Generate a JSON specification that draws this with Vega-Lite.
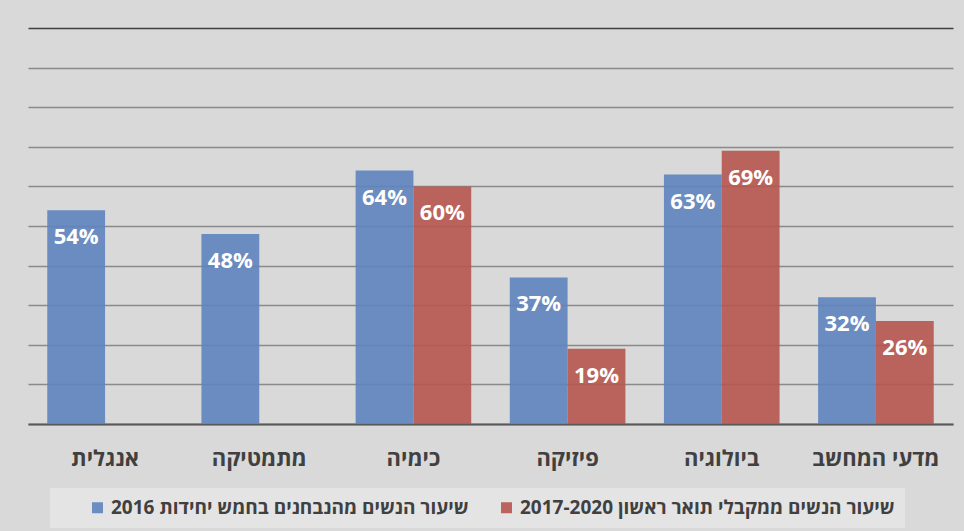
{
  "$schema": "https://vega.github.io/schema/vega-lite/v6.json",
  "width": 925,
  "height": 396,
  "autosize": "none",
  "padding": {"left": 28, "top": 28, "right": 11, "bottom": 107},
  "background": "#d9d9d9",
  "config": {
    "view": {"stroke": null},
    "font": "Open Sans, Liberation Sans, DejaVu Sans, sans-serif"
  },
  "data": {
    "values": [
      {"subject": "אנגלית", "series": "שיעור הנשים מהנבחנים בחמש יחידות 2016", "value": 0.54},
      {"subject": "מתמטיקה", "series": "שיעור הנשים מהנבחנים בחמש יחידות 2016", "value": 0.48},
      {"subject": "כימיה", "series": "שיעור הנשים מהנבחנים בחמש יחידות 2016", "value": 0.64},
      {"subject": "כימיה", "series": "שיעור הנשים ממקבלי תואר ראשון 2017-2020", "value": 0.60},
      {"subject": "פיזיקה", "series": "שיעור הנשים מהנבחנים בחמש יחידות 2016", "value": 0.37},
      {"subject": "פיזיקה", "series": "שיעור הנשים ממקבלי תואר ראשון 2017-2020", "value": 0.19},
      {"subject": "ביולוגיה", "series": "שיעור הנשים מהנבחנים בחמש יחידות 2016", "value": 0.63},
      {"subject": "ביולוגיה", "series": "שיעור הנשים ממקבלי תואר ראשון 2017-2020", "value": 0.69},
      {"subject": "מדעי המחשב", "series": "שיעור הנשים מהנבחנים בחמש יחידות 2016", "value": 0.32},
      {"subject": "מדעי המחשב", "series": "שיעור הנשים ממקבלי תואר ראשון 2017-2020", "value": 0.26}
    ]
  },
  "encoding": {
    "x": {
      "field": "subject",
      "type": "nominal",
      "sort": ["אנגלית", "מתמטיקה", "כימיה", "פיזיקה", "ביולוגיה", "מדעי המחשב"],
      "scale": {"paddingInner": 0.25, "paddingOuter": 0.125},
      "axis": {
        "title": null,
        "labelAngle": 0,
        "labelFontSize": 22,
        "labelFontWeight": "bold",
        "labelColor": "#404040",
        "labelPadding": 24,
        "ticks": false,
        "domainColor": "#595959",
        "domainWidth": 2
      }
    },
    "xOffset": {
      "field": "series",
      "type": "nominal",
      "scale": {"domain": ["שיעור הנשים מהנבחנים בחמש יחידות 2016", "שיעור הנשים ממקבלי תואר ראשון 2017-2020"]}
    },
    "y": {
      "field": "value",
      "type": "quantitative",
      "scale": {"domain": [0, 1]},
      "axis": {
        "title": null,
        "labels": false,
        "ticks": false,
        "domain": false,
        "values": [0, 0.1, 0.2, 0.3, 0.4, 0.5, 0.6, 0.7, 0.8, 0.9, 1],
        "gridColor": {"condition": {"test": "datum.value >= 0.99", "value": "#404040"}, "value": "#8a8a8a"},
        "gridWidth": 1.6
      }
    }
  },
  "layer": [
    {
      "mark": {"type": "bar", "opacity": 0.9},
      "encoding": {
        "color": {
          "field": "series",
          "type": "nominal",
          "scale": {
            "domain": ["שיעור הנשים מהנבחנים בחמש יחידות 2016", "שיעור הנשים ממקבלי תואר ראשון 2017-2020"],
            "range": ["#5e83bc", "#b5554e"]
          },
          "legend": {
            "orient": "none",
            "legendX": 22,
            "legendY": 460,
            "direction": "horizontal",
            "title": null,
            "fillColor": "#e4e4e4",
            "padding": 10,
            "labelFontSize": 19,
            "labelFontWeight": "bold",
            "labelColor": "#404040",
            "symbolType": "square",
            "symbolSize": 121,
            "symbolStrokeWidth": 0,
            "symbolOpacity": 0.9,
            "symbolOffset": 28,
            "columnPadding": -5,
            "labelLimit": 600
          }
        }
      }
    },
    {
      "mark": {"type": "text", "baseline": "middle", "dy": 27, "fontSize": 22, "fontWeight": "bold", "color": "white"},
      "encoding": {
        "text": {"field": "value", "type": "quantitative", "format": ".0%"}
      }
    }
  ]
}
